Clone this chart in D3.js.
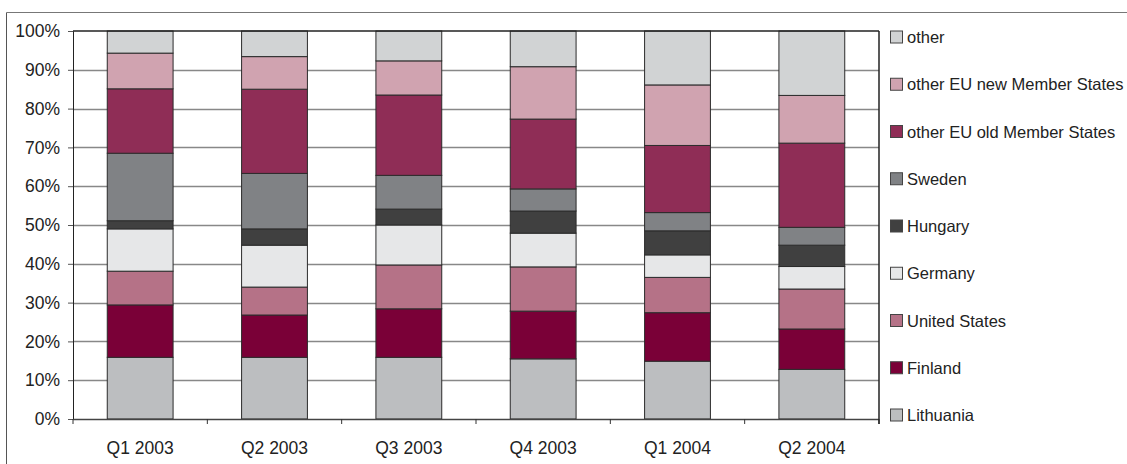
<!DOCTYPE html>
<html>
<head>
<meta charset="utf-8">
<script src="https://cdn.jsdelivr.net/npm/d3@7"></script>
<style>
  body { margin: 0; background: #fff; }
  svg { display: block; font-family: "Liberation Sans", Arial, sans-serif; }
</style>
</head>
<body>
<svg id="chart" width="1127" height="464"></svg>
<script>
const quarters = ['Q1 2003', 'Q2 2003', 'Q3 2003', 'Q4 2003', 'Q1 2004', 'Q2 2004'];
// stacking order, bottom to top
const seriesNames = ['Lithuania', 'Finland', 'United States', 'Germany', 'Hungary', 'Sweden',
    'other EU old Member States', 'other EU new Member States', 'other'];

const lithuania = [15.9, 15.9, 15.9, 15.5, 14.9, 12.8];
const finland   = [13.5, 10.9, 12.5, 12.3, 12.5, 10.4];
const usa       = [8.7, 7.2, 11.3, 11.4, 9.1, 10.3];
const germany   = [10.9, 10.8, 10.3, 8.7, 5.8, 5.8];
const hungary   = [2.1, 4.2, 4.1, 5.7, 6.2, 5.5];
const sweden    = [17.4, 14.3, 8.7, 5.7, 4.7, 4.6];
const euOld     = [16.6, 21.7, 20.7, 18.0, 17.3, 21.7];
const euNew     = [9.2, 8.4, 8.8, 13.5, 15.6, 12.3];
const other     = [5.7, 6.6, 7.7, 9.2, 13.9, 16.6];

const colors = ['#bcbec0', '#7a0037', '#b57287', '#e6e7e8', '#404040', '#808285',
    '#8f2d56', '#d0a3b0', '#d1d3d4'];

const yTicks = [0, 0.1, 0.2, 0.3, 0.4, 0.5, 0.6, 0.7, 0.8, 0.9, 1];

const allSeries = [lithuania, finland, usa, germany, hungary, sweden, euOld, euNew, other];
const data = quarters.map((q, i) => {
    const row = { quarter: q };
    seriesNames.forEach((s, j) => { row[s] = allSeries[j][i]; });
    return row;
});

const svg = d3.select('#chart');
const margin = { top: 31, left: 73, right: 248, bottom: 45 };
const width = +svg.attr('width');
const height = +svg.attr('height');
const innerWidth = width - margin.left - margin.right;
const innerHeight = height - margin.top - margin.bottom;

// outer frame: only its top and left edges are visible
svg.append('line')
    .attr('x1', 6.5).attr('x2', 6.5).attr('y1', 12.5).attr('y2', height)
    .attr('stroke', '#555');
svg.append('line')
    .attr('x1', 6.5).attr('x2', width).attr('y1', 12.5).attr('y2', 12.5)
    .attr('stroke', '#777');

const stacked = d3.stack().keys(seriesNames).offset(d3.stackOffsetExpand)(data);

const x = d3.scaleBand().domain(quarters)
    .range([margin.left, margin.left + innerWidth]).paddingInner(0.51).paddingOuter(0.255);
const xOuter = d3.scaleBand().domain(quarters).range([margin.left, margin.left + innerWidth]);
const y = d3.scaleLinear().domain([0, 1]).range([margin.top + innerHeight, margin.top]);
const x0 = margin.left, x1 = margin.left + innerWidth;
const yBase = margin.top + innerHeight;

// gridlines
svg.append('g')
    .selectAll('line')
    .data(yTicks.slice(1, -1))
    .join('line')
    .attr('x1', x0).attr('x2', x1)
    .attr('y1', d => Math.round(y(d)) + 0.5).attr('y2', d => Math.round(y(d)) + 0.5)
    .attr('stroke', '#888').attr('stroke-width', 1.5);

// bars
svg.append('g')
    .selectAll('g')
    .data(stacked)
    .join('g')
    .attr('fill', (d, i) => colors[i])
    .selectAll('rect')
    .data(d => d)
    .join('rect')
    .attr('x', d => x(d.data.quarter))
    .attr('width', x.bandwidth())
    .attr('y', d => y(d[1]))
    .attr('height', d => y(d[0]) - y(d[1]))
    .attr('stroke', '#2b2b2b')
    .attr('stroke-width', 1);

// y axis
const yAxis = d3.axisLeft(y).tickValues(yTicks).tickFormat(d3.format('.0%')).tickSize(5).tickPadding(8);
const yAxisG = svg.append('g').attr('transform', `translate(${x0},0)`).call(yAxis);
yAxisG.select('.domain').attr('stroke', '#222');
yAxisG.selectAll('.tick line').attr('stroke', '#555');
yAxisG.selectAll('text').attr('font-size', '17.5px').attr('fill', '#222').attr('font-family', '"Liberation Sans", Arial, sans-serif');

// x axis with ticks at category boundaries
svg.append('line')
    .attr('x1', x0).attr('x2', x1).attr('y1', yBase + 0.5).attr('y2', yBase + 0.5)
    .attr('stroke', '#444').attr('stroke-width', 1.5);
svg.append('g')
    .selectAll('line')
    .data(quarters.concat(['end']))
    .join('line')
    .attr('x1', (d, i) => i < quarters.length ? xOuter(d) : x1)
    .attr('x2', (d, i) => i < quarters.length ? xOuter(d) : x1)
    .attr('y1', yBase).attr('y2', yBase + 5)
    .attr('stroke', '#333');
svg.append('g')
    .selectAll('text')
    .data(quarters)
    .join('text')
    .attr('x', d => xOuter(d) + xOuter.bandwidth() / 2)
    .attr('y', yBase + 35)
    .attr('text-anchor', 'middle')
    .attr('font-size', '17.5px')
    .attr('fill', '#222')
    .text(d => d);

// plot frame top and right
svg.append('line').attr('x1', x0).attr('x2', x1).attr('y1', margin.top).attr('y2', margin.top)
    .attr('stroke', '#222').attr('stroke-width', 1.5);
svg.append('line').attr('x1', x1).attr('x2', x1).attr('y1', margin.top).attr('y2', yBase + 5)
    .attr('stroke', '#222').attr('stroke-width', 1.5);

// legend, top to bottom is reverse stack order
const legendNames = seriesNames.slice().reverse();
const legendColors = colors.slice().reverse();
const ly = d3.scalePoint().domain(legendNames).range([37, 415]);
const items = svg.append('g').selectAll('g')
    .data(legendNames)
    .join('g')
    .attr('transform', d => `translate(890,${ly(d)})`);
items.append('rect')
    .attr('x', 0.5).attr('y', -6)
    .attr('width', 12).attr('height', 12)
    .attr('fill', (d, i) => legendColors[i])
    .attr('stroke', '#444').attr('stroke-width', 1);
items.append('text')
    .attr('x', 17)
    .attr('y', 6)
    .attr('font-size', '16.5px')
    .attr('fill', '#222')
    .text(d => d);
</script>
</body>
</html>
